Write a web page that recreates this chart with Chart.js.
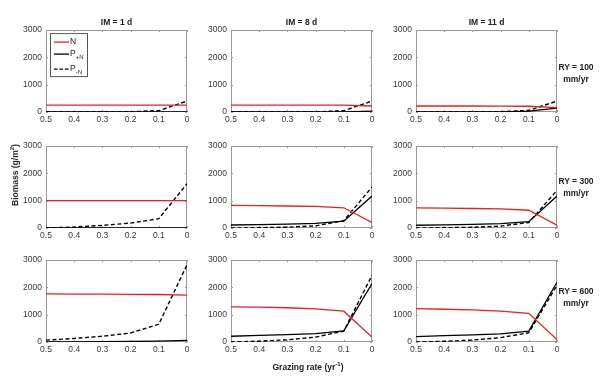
<!DOCTYPE html>
<html lang="en">
<head>
<meta charset="UTF-8">
<title>Biomass vs grazing rate</title>
<script src="https://cdn.jsdelivr.net/npm/chart.js"></script>
<style>
  body { margin: 0; background: #fff; font-family: "Liberation Sans", Arial, sans-serif; }
  #wrap { position: relative; width: 600px; height: 385px; overflow: hidden; }
  canvas { position: absolute; }
  .lbl { position: absolute; font-weight: bold; font-size: 8.5px; color: #222; white-space: nowrap; line-height: 11px; }
  .lbl sup { font-size: 6px; }
  .title { width: 141px; text-align: center; }
  .ry { width: 50px; text-align: center; line-height: 11.5px; }
</style>
</head>
<body>
<div id="wrap"></div>
<script>
    // grazing rate (yr^-1) at which the model was run
    const rates = [0.5, 0.4, 0.3, 0.2, 0.1, 0];
    const imLabels = ['IM = 1 d', 'IM = 8 d', 'IM = 11 d'];
    const ryLabels = ['RY = 100', 'RY = 300', 'RY = 600'];

    // RY = 100 mm/yr
    const N_100_1 = [250, 250, 250, 250, 250, 250];
    const PP_100_1 = [0, 0, 0, 0, 0, 0];
    const PM_100_1 = [0, 0, 0, 10, 50, 400];
    const N_100_8 = [250, 250, 250, 250, 250, 220];
    const PP_100_8 = [0, 0, 0, 0, 5, 30];
    const PM_100_8 = [0, 0, 0, 5, 50, 400];
    const N_100_11 = [220, 220, 220, 215, 210, 160];
    const PP_100_11 = [0, 0, 0, 5, 30, 140];
    const PM_100_11 = [0, 0, 0, 10, 60, 400];

    // RY = 300 mm/yr
    const N_300_1 = [1000, 1000, 1000, 1000, 1000, 1000];
    const PP_300_1 = [0, 0, 0, 0, 0, 0];
    const PM_300_1 = [0, 35, 95, 180, 340, 1620];
    const N_300_8 = [830, 820, 805, 790, 740, 200];
    const PP_300_8 = [110, 125, 145, 170, 250, 1170];
    const PM_300_8 = [0, 10, 30, 80, 270, 1500];
    const N_300_11 = [735, 725, 715, 700, 650, 100];
    const PP_300_11 = [100, 115, 135, 160, 230, 1170];
    const PM_300_11 = [0, 10, 25, 70, 200, 1380];

    // RY = 600 mm/yr
    const N_600_1 = [1760, 1755, 1750, 1745, 1740, 1720];
    const PP_600_1 = [0, 5, 10, 20, 30, 60];
    const PM_600_1 = [70, 130, 210, 330, 650, 2830];
    const N_600_8 = [1290, 1275, 1255, 1215, 1130, 180];
    const PP_600_8 = [210, 240, 270, 310, 410, 2140];
    const PM_600_8 = [0, 30, 80, 180, 400, 2440];
    const N_600_11 = [1220, 1200, 1175, 1130, 1050, 90];
    const PP_600_11 = [200, 230, 260, 300, 400, 2190];
    const PM_600_11 = [0, 25, 70, 160, 340, 2080];

    const panels = [
        [[N_100_1, PP_100_1, PM_100_1], [N_100_8, PP_100_8, PM_100_8], [N_100_11, PP_100_11, PM_100_11]],
        [[N_300_1, PP_300_1, PM_300_1], [N_300_8, PP_300_8, PM_300_8], [N_300_11, PP_300_11, PM_300_11]],
        [[N_600_1, PP_600_1, PM_600_1], [N_600_8, PP_600_8, PM_600_8], [N_600_11, PP_600_11, PM_600_11]]
    ];

    // plot area positions on the page
    const colLeft = [46, 231, 416];
    const rowTop = [29, 145, 259];
    const plotW = 141, plotH = 83;
    const padL = 44, padT = 8, padR = 6, padB = 20;

    const RED = '#e8201e';
    const FONT = '"Liberation Sans", Arial, sans-serif';
    Chart.defaults.font.family = FONT;
    Chart.defaults.font.size = 8.5;
    Chart.defaults.color = '#3a3a3a';

    // matlab style box with inward ticks
    const boxPlugin = {
        id: 'box',
        beforeDatasetsDraw(chart) {
            const { ctx, chartArea: a, scales } = chart;
            ctx.save();
            ctx.strokeStyle = '#9a9a9a';
            ctx.lineWidth = 1;
            ctx.strokeRect(Math.round(a.left) + 0.5, Math.round(a.top) + 0.5,
                Math.round(a.right - a.left) - 1, Math.round(a.bottom - a.top) - 1);
            ctx.beginPath();
            scales.x.ticks.forEach(t => {
                const px = Math.round(scales.x.getPixelForValue(t.value)) + 0.5;
                ctx.moveTo(px, a.bottom); ctx.lineTo(px, a.bottom - 2);
                ctx.moveTo(px, a.top); ctx.lineTo(px, a.top + 2);
            });
            scales.y.ticks.forEach(t => {
                const py = Math.round(scales.y.getPixelForValue(t.value)) + 0.5;
                ctx.moveTo(a.left, py); ctx.lineTo(a.left + 2, py);
                ctx.moveTo(a.right, py); ctx.lineTo(a.right - 2, py);
            });
            ctx.stroke();
            ctx.restore();
        }
    };

    // legend with subscripts, only on the first panel
    const legendPlugin = {
        id: 'subLegend',
        afterDraw(chart, args, opts) {
            if (!opts.show) return;
            const { ctx, chartArea: a } = chart;
            const x0 = a.left + 4, y0 = a.top + 3;
            ctx.save();
            ctx.fillStyle = '#fff';
            ctx.fillRect(x0, y0, 38, 44);
            ctx.strokeStyle = '#555';
            ctx.lineWidth = 1;
            ctx.strokeRect(x0 + 0.5, y0 + 0.5, 37, 43);
            const items = [
                { color: RED, dash: [], main: 'N', sub: '', y: 9 },
                { color: '#000', dash: [], main: 'P', sub: '+N', y: 21 },
                { color: '#000', dash: [3.5, 2], main: 'P', sub: '-N', y: 36 }
            ];
            items.forEach(it => {
                ctx.beginPath();
                ctx.strokeStyle = it.color;
                ctx.lineWidth = 1.3;
                ctx.setLineDash(it.dash);
                ctx.moveTo(x0 + 4, y0 + it.y);
                ctx.lineTo(x0 + 19, y0 + it.y);
                ctx.stroke();
                ctx.setLineDash([]);
                ctx.fillStyle = '#222';
                ctx.textBaseline = 'middle';
                ctx.font = '8.5px ' + FONT;
                ctx.fillText(it.main, x0 + 20, y0 + it.y);
                if (it.sub) {
                    const w = ctx.measureText(it.main).width;
                    ctx.font = '6px ' + FONT;
                    ctx.fillText(it.sub, x0 + 20 + w, y0 + it.y + 3.5);
                }
            });
            ctx.restore();
        }
    };

    const wrap = document.getElementById('wrap');

    const makePanel = (r, c) => {
        const [nVals, ppVals, pmVals] = panels[r][c];
        const cv = document.createElement('canvas');
        const w = plotW + padL + padR, h = plotH + padT + padB;
        cv.width = w; cv.height = h;
        cv.style.left = (colLeft[c] - padL) + 'px';
        cv.style.top = (rowTop[r] - padT) + 'px';
        cv.style.width = w + 'px'; cv.style.height = h + 'px';
        wrap.appendChild(cv);

        const pts = vals => rates.map((x, i) => ({ x: x, y: vals[i] }));

        new Chart(cv, {
            type: 'line',
            data: {
                datasets: [
                    { label: 'N', data: pts(nVals), borderColor: RED, borderWidth: 1.3 },
                    { label: 'P+N', data: pts(ppVals), borderColor: '#000', borderWidth: 1.3 },
                    { label: 'P-N', data: pts(pmVals), borderColor: '#000', borderWidth: 1.4, borderDash: [4, 2.5] }
                ]
            },
            options: {
                responsive: false,
                animation: false,
                events: [],
                elements: { point: { radius: 0 }, line: { tension: 0 } },
                layout: { padding: { top: padT, right: padR, left: 0, bottom: 0 } },
                scales: {
                    x: {
                        type: 'linear', min: 0, max: 0.5, reverse: true,
                        grid: { display: false, drawTicks: false },
                        border: { display: false },
                        ticks: {
                            stepSize: 0.1, padding: 3, maxRotation: 0,
                            callback: v => String(Number(v.toFixed(1)))
                        },
                        afterFit: s => { s.height = padB; }
                    },
                    y: {
                        min: 0, max: 3000,
                        grid: { display: false, drawTicks: false },
                        border: { display: false },
                        ticks: { stepSize: 1000, padding: 4, callback: v => String(v) },
                        afterFit: s => { s.width = padL; }
                    }
                },
                plugins: {
                    legend: { display: false },
                    tooltip: { enabled: false },
                    subLegend: { show: r === 0 && c === 0 }
                }
            },
            plugins: [boxPlugin, legendPlugin]
        });
    };

    for (let r = 0; r < 3; r++) {
        for (let c = 0; c < 3; c++) makePanel(r, c);
    }

    // titles over columns
    imLabels.forEach((t, c) => {
        const d = document.createElement('div');
        d.className = 'lbl title';
        d.style.left = colLeft[c] + 'px';
        d.style.top = '17px';
        d.textContent = t;
        wrap.appendChild(d);
    });

    // rainfall labels on the right
    const ryCenters = [68, 182, 292];
    ryLabels.forEach((t, r) => {
        const d = document.createElement('div');
        d.className = 'lbl ry';
        d.style.left = '551px';
        d.style.top = (ryCenters[r] - 6) + 'px';
        d.innerHTML = t + '<br>mm/yr';
        wrap.appendChild(d);
    });

    // axis titles
    const xt = document.createElement('div');
    xt.className = 'lbl';
    xt.style.left = '308px';
    xt.style.top = '359px';
    xt.style.transform = 'translateX(-50%)';
    xt.innerHTML = 'Grazing rate (yr<sup>-1</sup>)';
    wrap.appendChild(xt);

    const yt = document.createElement('div');
    yt.className = 'lbl';
    yt.style.left = '14px';
    yt.style.top = '175px';
    yt.style.transform = 'translate(-50%, -50%) rotate(-90deg)';
    yt.innerHTML = 'Biomass (g/m<sup>2</sup>)';
    wrap.appendChild(yt);
</script>
</body>
</html>
